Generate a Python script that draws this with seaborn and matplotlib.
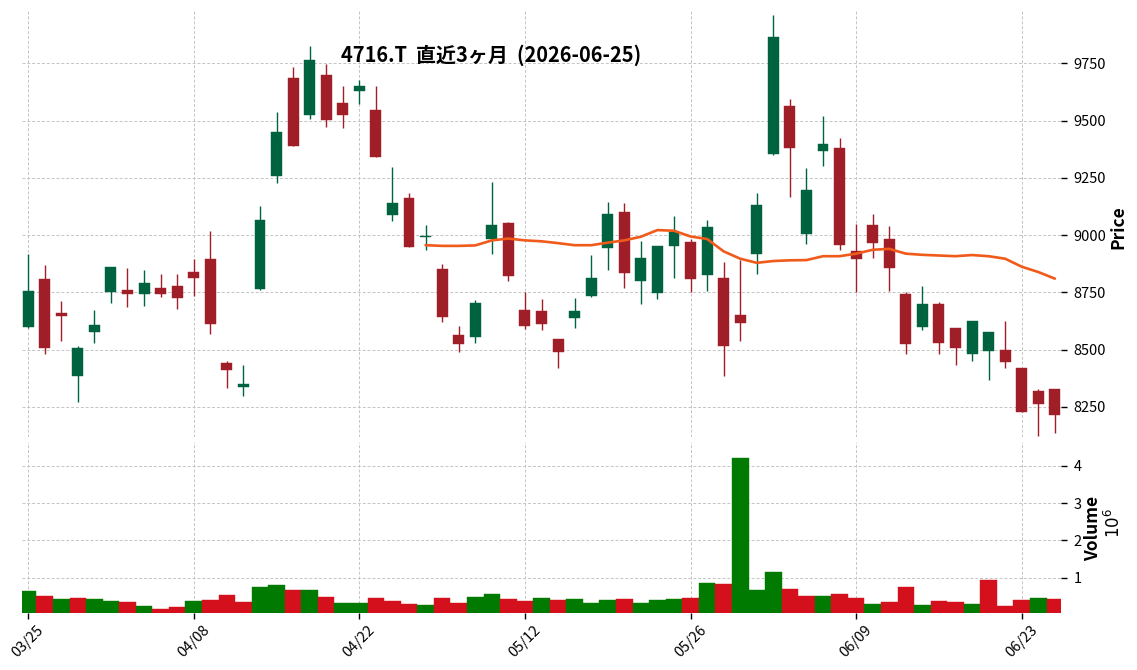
import matplotlib
matplotlib.use("Agg")
import numpy as np
import pandas as pd
import matplotlib.pyplot as plt
import seaborn as sns
from matplotlib.ticker import FixedLocator, FuncFormatter

# ---------------- data ----------------
dates = ["03/25", "03/26", "03/27", "03/30", "03/31", "04/01", "04/02", "04/03", "04/06", "04/07",
         "04/08", "04/09", "04/10", "04/13", "04/14", "04/15", "04/16", "04/17", "04/20", "04/21",
         "04/22", "04/23", "04/24", "04/27", "04/28", "04/30", "05/01", "05/07", "05/08", "05/11",
         "05/12", "05/13", "05/14", "05/15", "05/18", "05/19", "05/20", "05/21", "05/22", "05/25",
         "05/26", "05/27", "05/28", "05/29", "06/01", "06/02", "06/03", "06/04", "06/05", "06/08",
         "06/09", "06/10", "06/11", "06/12", "06/15", "06/16", "06/17", "06/18", "06/19", "06/22",
         "06/23", "06/24", "06/25"]

opens = [8597, 8810, 8661, 8384, 8576, 8750, 8762, 8741, 8770, 8779,
         8840, 8897, 8443, 8336, 8767, 9260, 9686, 9522, 9699, 9577,
         9631, 9544, 9086, 9163, 8990, 8853, 8565, 8554, 8984, 9054,
         8674, 8670, 8548, 8637, 8733, 8942, 9102, 8798, 8746, 8951,
         8971, 8828, 8815, 8653, 8916, 9352, 9564, 9003, 9365, 9381,
         8932, 9045, 8984, 8744, 8597, 8701, 8596, 8480, 8493, 8500,
         8421, 8321, 8327]
highs = [8919, 8868, 8711, 8514, 8673, 8862, 8856, 8846, 8830, 8830,
         8895, 9019, 8452, 8433, 9126, 9536, 9733, 9824, 9746, 9651,
         9677, 9651, 9297, 9183, 9044, 8874, 8602, 8717, 9230, 9058,
         8750, 8721, 8548, 8725, 8913, 9145, 9141, 8974, 8953, 9083,
         8985, 9068, 8882, 8892, 9183, 9962, 9596, 9291, 9519, 9423,
         9048, 9092, 9039, 8750, 8779, 8708, 8596, 8626, 8576, 8626,
         8421, 8330, 8327]
lows = [8595, 8483, 8538, 8272, 8529, 8703, 8686, 8692, 8730, 8677,
        8733, 8568, 8333, 8299, 8759, 9227, 9387, 9507, 9471, 9467,
        9571, 9339, 9063, 8946, 8935, 8621, 8491, 8529, 8917, 8799,
        8590, 8587, 8420, 8594, 8730, 8849, 8770, 8699, 8721, 8812,
        8750, 8756, 8387, 8539, 8831, 9349, 9166, 8961, 9302, 8936,
        8750, 8900, 8754, 8483, 8586, 8483, 8433, 8452, 8369, 8421,
        8227, 8122, 8137]
closes = [8757, 8506, 8645, 8509, 8609, 8862, 8741, 8792, 8741, 8724,
          8811, 8610, 8410, 8352, 9067, 9451, 9387, 9765, 9504, 9522,
          9651, 9343, 9141, 8946, 8995, 8641, 8523, 8705, 9045, 8820,
          8602, 8612, 8490, 8670, 8814, 9093, 8833, 8901, 8953, 9013,
          8807, 9036, 8515, 8616, 9132, 9865, 9382, 9198, 9398, 8959,
          8894, 8964, 8855, 8523, 8701, 8528, 8506, 8626, 8576, 8445,
          8227, 8262, 8214]
volumes = [640000, 500000, 420000, 450000, 420000, 370000, 350000, 240000, 160000, 210000,
           370000, 400000, 530000, 350000, 740000, 800000, 660000, 660000, 480000, 320000,
           320000, 450000, 370000, 290000, 270000, 450000, 320000, 480000, 560000, 420000,
           370000, 450000, 400000, 420000, 320000, 400000, 420000, 320000, 400000, 420000,
           450000, 850000, 820000, 4220000, 660000, 1140000, 690000, 500000, 500000, 560000,
           450000, 290000, 350000, 740000, 270000, 370000, 350000, 290000, 930000, 240000,
           400000, 450000, 420000]
# 25-day moving average as drawn (first 24 days have no value)
ma25 = [np.nan] * 24 + [
    8956, 8953, 8953, 8955, 8977, 8985, 8977, 8973, 8965, 8956,
    8956, 8967, 8977, 8993, 9022, 9019, 8994, 8983, 8929, 8897,
    8879, 8887, 8890, 8891, 8908, 8908, 8919, 8936, 8940, 8919,
    8914, 8911, 8908, 8913, 8908, 8897, 8862, 8839, 8810]

title = "4716.T  直近3ヶ月  (2026-06-25)"
price_ticks = [8250, 8500, 8750, 9000, 9250, 9500, 9750]
vol_ticks = [1e6, 2e6, 3e6, 4e6]
xtick_idx = [0, 10, 20, 30, 40, 50, 60]

# ---------------- style ----------------
sns.set_style("white")
plt.rcParams["font.family"] = ["Noto Sans CJK JP", "DejaVu Sans"]
plt.rcParams["text.color"] = "black"
plt.rcParams["xtick.color"] = "black"
plt.rcParams["ytick.color"] = "black"
plt.rcParams["axes.labelcolor"] = "black"

UP_C = "#006340"
DN_C = "#a01e28"
VUP_C = "#007a00"
VDN_C = "#d3101c"
MA_C = "#f05a1a"
GRID = dict(color="#c4c4c4", linestyle=(0, (3, 2)), linewidth=0.7)

df = pd.DataFrame({"date": dates, "open": opens, "high": highs, "low": lows,
                   "close": closes, "volume": volumes, "ma25": ma25})
df["x"] = np.arange(len(df))
df["up"] = df["close"] >= df["open"]
prev_close = df["close"].shift(1).fillna(df["open"])
df["vup"] = df["close"] >= prev_close

W, H = 1137, 670
fig = plt.figure(figsize=(W / 100, H / 100), dpi=100)
ax = fig.add_axes([22 / W, 1 - 437 / H, (1061 - 22) / W, (437 - 11) / H])
axv = fig.add_axes([22 / W, 1 - 613 / H, (1061 - 22) / W, (613 - 442) / H], sharex=ax)

for a in (ax, axv):
    for s in a.spines.values():
        s.set_visible(False)
    a.set_axisbelow(True)

# ---------------- candles ----------------
cols = np.where(df["up"], UP_C, DN_C)
ax.vlines(df["x"], df["low"], df["high"], colors=cols, linewidth=1.0, zorder=2)
body_lo = np.minimum(df["open"], df["close"])
body_h = np.maximum(np.abs(df["close"] - df["open"]), 4)
ax.bar(df["x"], body_h, bottom=body_lo, width=0.66, color=cols,
       edgecolor=cols, linewidth=0.3, zorder=3)

sns.lineplot(data=df, x="x", y="ma25", ax=ax, color=MA_C, linewidth=1.9, zorder=4)

ax.set_xlim(-0.37, 62.37)
ax.set_ylim(8119, 9978)
ax.yaxis.tick_right()
ax.yaxis.set_major_locator(FixedLocator(price_ticks))
ax.tick_params(axis="y", which="major", length=4, width=1, pad=5, labelsize=10.5,
               right=True, left=False, color="black", labelcolor="black")
ax.tick_params(axis="x", which="both", length=0, labelbottom=False, bottom=False)
ax.xaxis.set_major_locator(FixedLocator(xtick_idx))
ax.grid(True, **GRID)
ax.set_xlabel("")
ax.set_ylabel("")

# ---------------- volume ----------------
vcols = np.where(df["vup"], VUP_C, VDN_C)
axv.bar(df["x"], df["volume"], width=1.0, color=vcols, edgecolor=vcols,
        linewidth=0.3, zorder=3)
axv.set_ylim(0.3 * min(volumes), 1.1 * max(volumes))
axv.yaxis.tick_right()
axv.yaxis.set_major_locator(FixedLocator(vol_ticks))
axv.yaxis.set_major_formatter(FuncFormatter(lambda v, p: f"{v / 1e6:g}"))
axv.tick_params(axis="y", length=4, width=1, pad=5, labelsize=10.5,
                right=True, left=False, color="black", labelcolor="black")
axv.xaxis.set_major_locator(FixedLocator(xtick_idx))
axv.set_xticklabels([dates[i] for i in xtick_idx], rotation=45, ha="center")
axv.tick_params(axis="x", length=4, width=1, pad=3, labelsize=10.5,
                bottom=True, color="black", labelcolor="black")
axv.grid(True, **GRID)
axv.set_xlabel("")
axv.set_ylabel("")

# ---------------- texts ----------------
fig.text(491 / W, 1 - 55 / H, title, ha="center", va="center",
         fontsize=14.4, fontweight="bold", color="black")
fig.text(1118 / W, 1 - 227 / H, "Price", rotation=90, ha="center", va="center",
         fontsize=12.5, fontweight="bold", color="black")
fig.text(1093 / W, 1 - 528 / H, "Volume", rotation=90, ha="center", va="center",
         fontsize=12.5, fontweight="bold", color="black")
fig.text(1114 / W, 1 - 523 / H, r"$10^{6}$", rotation=90, ha="center", va="center",
         fontsize=12, color="black")

fig.savefig("out.png", dpi=100)
